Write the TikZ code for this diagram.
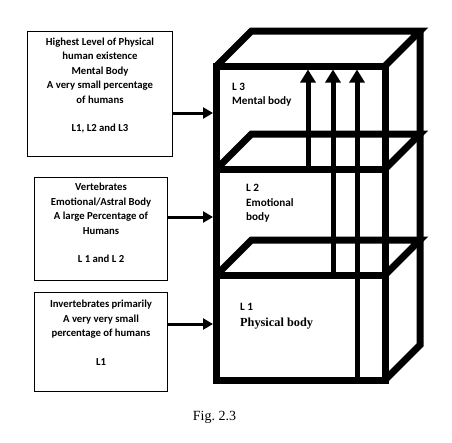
\documentclass[tikz,border=0pt]{standalone}
\usepackage{fontspec}
\setmainfont{Carlito}
\newfontfamily\serfont{Liberation Serif}
\usetikzlibrary{arrows.meta,calc}
\frenchspacing
\tikzset{
  edge/.style={line width=7pt,line join=miter},
  uparrow/.style={line width=5pt,-{Triangle[width=15pt,length=13pt]}},
  sidearrow/.style={line width=3pt,-{Triangle[width=11pt,length=10pt]}},
  infobox/.style={draw,line width=1pt,anchor=north west,inner sep=0pt},
  infotext/.style={align=center,anchor=north,inner sep=0pt,font=\fontsize{10.7}{14.5}\selectfont\bfseries},
  celltext/.style={align=left,anchor=north west,inner sep=0pt,font=\fontsize{11.2}{14}\selectfont\bfseries},
}
\begin{document}
\begin{tikzpicture}[x=1pt,y=-1pt]
\useasboundingbox (0,0) rectangle (452,442);
% cube corners
\coordinate (FTL) at (216.5,66);
\coordinate (FTR) at (385,66);
\coordinate (FBL) at (216.5,380);
\coordinate (FBR) at (385,380);
\coordinate (BTL) at (251.5,31);
\coordinate (BTR) at (420,31);
\coordinate (BBR) at (420,345);
% shelves
\coordinate (S1L) at (216.5,169);
\coordinate (S1R) at (385,169);
\coordinate (S1BL) at (251.5,134);
\coordinate (S1BR) at (420,134);
\coordinate (S2L) at (216.5,275);
\coordinate (S2R) at (385,275);
\coordinate (S2BL) at (251.5,240);
\coordinate (S2BR) at (420,240);
% cube
\draw[edge] (FTL) -- (BTL) -- (BTR) -- (FTR);
\draw[edge] (BTR) -- (BBR) -- (FBR);
\draw[edge] (S1L) -- (S1BL) -- (S1BR) -- (S1R);
\draw[edge] (S2L) -- (S2BL) -- (S2BR) -- (S2R);
\draw[edge] (S1L) -- (S1R);
\draw[edge] (S2L) -- (S2R);
\draw[edge] (FTL) rectangle (FBR);
% vertical arrows
\coordinate (A1s) at (308,169);
\coordinate (A1e) at (308,69.5);
\coordinate (A2s) at (333,275);
\coordinate (A2e) at (333,69.5);
\coordinate (A3s) at (357,380);
\coordinate (A3e) at (357,69.5);
\draw[uparrow] (A1s) -- (A1e);
\draw[uparrow] (A2s) -- (A2e);
\draw[uparrow] (A3s) -- (A3e);
% cell labels
\node[celltext] (c3) at (232,83) {L 3\\Mental body};
\node[celltext,font=\fontsize{11.2}{14.5}\selectfont\bfseries] (c2) at (246,184) {L 2\\Emotional\\body};
\node[celltext] (c1) at (240,303) {L 1};
\node[anchor=base west,inner sep=0pt,font=\serfont\bfseries\fontsize{12.3}{14}\selectfont] (c1b) at (240,326) {Physical body};
% info boxes
\node[infobox,minimum width=145pt,minimum height=125pt] (b1) at (27,31) {};
\node[infobox,minimum width=133pt,minimum height=103pt] (b2) at (34,177) {};
\node[infobox,minimum width=133pt,minimum height=99pt] (b3) at (34,292) {};
\node[infotext] (t1) at ($(b1.north)+(0,6.5)$) {Highest Level of Physical\\human existence\\Mental Body\\A very small percentage\\of humans\\[14pt]L1, L2 and L3};
\node[infotext] (t2) at ($(b2.north)+(0,6)$) {Vertebrates\\Emotional/Astral Body\\A large Percentage of\\Humans\\[14pt]L 1 and L 2};
\node[infotext] (t3) at ($(b3.north)+(0,8)$) {Invertebrates primarily\\A very very small\\percentage of humans\\[14pt]L1};
% side arrows
\coordinate (E1) at (213,113);
\coordinate (E2) at (213,217);
\coordinate (E3) at (213,324);
\draw[sidearrow] (b1.east |- E1) -- (E1);
\draw[sidearrow] (b2.east |- E2) -- (E2);
\draw[sidearrow] (b3.east |- E3) -- (E3);
% caption
\node[inner sep=0pt,font=\serfont\fontsize{14}{16}\selectfont] (fig) at (214.5,417) {Fig. 2.3};
\end{tikzpicture}
\end{document}
